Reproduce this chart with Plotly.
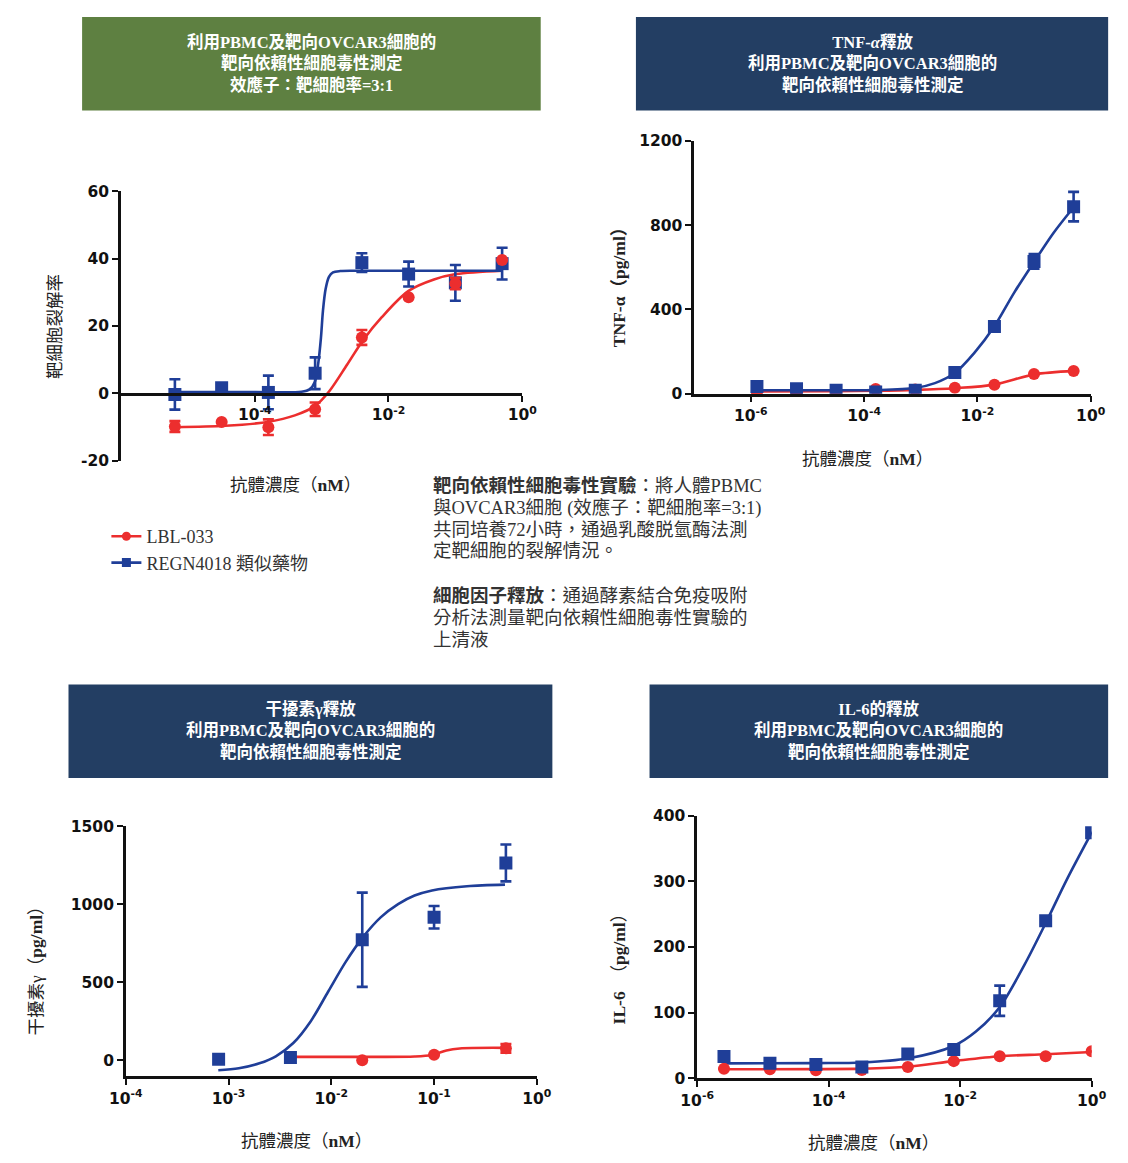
import numpy as np
import plotly.graph_objects as go

W, H = 1128, 1163

RED = "#ec2e2e"
BLUE = "#1f3e98"
GREEN_HDR = "#5e8041"
NAVY_HDR = "#233e63"

# ---------------- Target cell lysis (E:T = 3:1) ----------------
lysis_conc = [6.4e-6, 3.2e-5, 1.6e-4, 8e-4, 4e-3, 0.02, 0.1, 0.5]
lysis_lbl = [-9.8, -8.5, -10.0, -4.7, 16.6, 28.5, 32.6, 39.6]
lysis_lbl_err = [1.6, 0, 2.3, 2.0, 2.2, 0, 1.7, 0]
lysis_regn = [-0.3, 1.7, 0.3, 6.0, 38.8, 35.4, 32.8, 38.5]
lysis_regn_err = [4.5, 0, 5.0, 4.7, 2.8, 3.7, 5.3, 4.7]
lysis_lbl_fit_logc = [-5.19, -4.44, -3.79, -3.40, -3.09, -2.88, -2.62, -2.38, -2.10, -1.70, -1.32, -0.99, -0.30]
lysis_lbl_fit = [-10.0, -9.6, -8.4, -6.5, -3.6, 0.8, 8.5, 15.8, 22.6, 30.4, 33.8, 35.4, 36.4]
lysis_regn_fit_logc = [-5.19, -4.0, -3.30, -3.18, -3.10, -3.05, -3.01, -2.98, -2.94, -2.89, -2.83, -2.72, -2.5, -0.30]
lysis_regn_fit = [0.4, 0.4, 0.5, 1.2, 3.5, 9.0, 16.5, 24.5, 31.0, 34.6, 35.9, 36.3, 36.4, 36.4]
lysis_ticks = [-20, 0, 20, 40, 60]

# ---------------- TNF-alpha release ----------------
tnf_conc = [1.28e-6, 6.4e-6, 3.2e-5, 1.6e-4, 8e-4, 4e-3, 0.02, 0.1, 0.5]
tnf_lbl = [5, 5, 10, 22, 20, 28, 42, 93, 108]
tnf_regn = [34, 23, 16, 8, 16, 101, 319, 628, 888]
tnf_regn_err = [0, 0, 0, 0, 0, 0, 0, 35, 70]
tnf_lbl_fit_logc = [-5.89, -4.49, -3.80, -3.10, -2.40, -1.70, -1.00, -0.30]
tnf_lbl_fit = [10, 12, 14, 18, 26, 43, 91, 108]
tnf_regn_fit_logc = [-5.89, -4.49, -3.80, -3.10, -2.75, -2.40, -2.05, -1.70, -1.35, -1.00, -0.65, -0.30]
tnf_regn_fit = [16, 16, 17, 27, 50, 98, 195, 320, 480, 625, 765, 885]
tnf_ticks = [0, 400, 800, 1200]

# ---------------- Interferon-gamma release ----------------
ifn_conc = [8e-4, 4e-3, 0.02, 0.1, 0.5]
ifn_regn = [6, 17, 772, 916, 1264]
ifn_regn_err = [0, 0, 302, 72, 118]
ifn_lbl_conc = [4e-3, 0.02, 0.1, 0.5]
ifn_lbl = [20, 0, 34, 76]
ifn_lbl_err = [0, 0, 0, 28]
ifn_lbl_fit_logc = [-2.40, -1.70, -1.19, -1.02, -0.88, -0.75, -0.31]
ifn_lbl_fit = [21, 21, 23, 33, 62, 75, 79]
ifn_regn_fit_logc = [-3.10, -2.90, -2.70, -2.54, -2.37, -2.20, -2.03, -1.86, -1.69, -1.52, -1.35, -1.19, -1.02, -0.68, -0.31]
ifn_regn_fit = [-65, -52, -20, 25, 110, 250, 440, 630, 790, 915, 1000, 1055, 1088, 1115, 1125]
ifn_ticks = [0, 500, 1000, 1500]

# ---------------- IL-6 release ----------------
il6_conc = [2.56e-6, 1.28e-5, 6.4e-5, 3.2e-4, 1.6e-3, 8e-3, 0.04, 0.2, 1.0]
il6_lbl = [14.5, 13.5, 12, 12.5, 17, 26, 33.6, 33.6, 41]
il6_regn = [33, 22.6, 21, 17, 37, 43.6, 118, 240, 374]
il6_regn_err = [6, 0, 0, 0, 0, 0, 23, 0, 0]
il6_lbl_fit_logc = [-5.59, -4.19, -3.49, -2.80, -2.10, -1.40, -0.70, 0.0]
il6_lbl_fit = [13.6, 13.8, 14.5, 17.5, 26, 33.5, 36.5, 40]
il6_regn_fit_logc = [-5.59, -4.19, -3.49, -2.80, -2.10, -1.76, -1.40, -1.02, -0.70, -0.37, 0.0]
il6_regn_fit = [22.6, 23, 24, 30, 49, 71, 108, 173, 236, 304, 374]
il6_ticks = [0, 100, 200, 300, 400]

series_names = ["LBL-033", "REGN4018 類似藥物"]

TICK_FONT = dict(family="DejaVu Sans", size=15.5, color="#111111", weight="bold")
SERIF = "Liberation Serif, Noto Sans CJK TC"
CJK = "Noto Sans CJK TC"


def px(x):
    return x / W


def py(y):
    return 1 - y / H


def pow_label(e):
    return "10<sup>%d</sup>" % e


fig = go.Figure()


def add_panel(ax, fits, points):
    xa = "x" if ax == 1 else "x%d" % ax
    ya = "y" if ax == 1 else "y%d" % ax
    for logc, vals, color in fits:
        fig.add_trace(go.Scatter(
            x=10 ** np.array(logc), y=vals, mode="lines",
            line=dict(color=color, width=2.6, shape="spline", smoothing=0.9),
            showlegend=False, hoverinfo="skip", xaxis=xa, yaxis=ya))
    for conc, vals, err, color, symbol, size in points:
        fig.add_trace(go.Scatter(
            x=conc, y=vals, mode="markers",
            marker=dict(color=color, symbol=symbol, size=size),
            error_y=dict(type="data", array=err, visible=True, color=color,
                         thickness=2.6, width=5.5),
            showlegend=False, xaxis=xa, yaxis=ya))


add_panel(1,
          [(lysis_lbl_fit_logc, lysis_lbl_fit, RED), (lysis_regn_fit_logc, lysis_regn_fit, BLUE)],
          [(lysis_conc, lysis_regn, lysis_regn_err, BLUE, "square", 13),
           (lysis_conc, lysis_lbl, lysis_lbl_err, RED, "circle", 12)])
add_panel(2,
          [(tnf_lbl_fit_logc, tnf_lbl_fit, RED), (tnf_regn_fit_logc, tnf_regn_fit, BLUE)],
          [(tnf_conc, tnf_lbl, [0] * len(tnf_lbl), RED, "circle", 12),
           (tnf_conc, tnf_regn, tnf_regn_err, BLUE, "square", 13)])
add_panel(3,
          [(ifn_lbl_fit_logc, ifn_lbl_fit, RED), (ifn_regn_fit_logc, ifn_regn_fit, BLUE)],
          [(ifn_lbl_conc, ifn_lbl, ifn_lbl_err, RED, "circle", 12),
           (ifn_conc, ifn_regn, ifn_regn_err, BLUE, "square", 13)])
add_panel(4,
          [(il6_lbl_fit_logc, il6_lbl_fit, RED), (il6_regn_fit_logc, il6_regn_fit, BLUE)],
          [(il6_conc, il6_lbl, [0] * len(il6_lbl), RED, "circle", 12),
           (il6_conc, il6_regn, il6_regn_err, BLUE, "square", 13)])

# legend entries (line + marker)
for name, color, symbol in [(series_names[0], RED, "circle"), (series_names[1], BLUE, "square")]:
    fig.add_trace(go.Scatter(x=[None], y=[None], mode="lines+markers", name=name,
                             line=dict(color=color, width=2.6),
                             marker=dict(color=color, symbol=symbol, size=9),
                             xaxis="x", yaxis="y"))

axis_common = dict(showline=True, linewidth=2.6, linecolor="#111111", ticks="outside",
                   ticklen=6, tickwidth=2.2, tickcolor="#111111", showgrid=False,
                   zeroline=False, tickfont=TICK_FONT)


def xaxis(x0, x1, lo, hi, exps, **kw):
    d = dict(axis_common)
    d.update(type="log", range=[lo, hi], domain=[px(x0), px(x1)],
             tickvals=[10.0 ** e for e in exps], ticktext=[pow_label(e) for e in exps])
    d.update(kw)
    return d


def yaxis(top, bottom, lo, hi, vals, anchor):
    d = dict(axis_common)
    d.update(range=[lo, hi], domain=[py(bottom), py(top)], tickvals=vals,
             ticktext=[str(v) for v in vals], anchor=anchor)
    return d


fig.update_layout(
    width=W, height=H, margin=dict(l=0, r=0, t=0, b=0),
    paper_bgcolor="white", plot_bgcolor="rgba(0,0,0,0)",
    xaxis=xaxis(107, 520, -6, 0, [-4, -2, 0], anchor="free", position=py(391)),
    yaxis=yaxis(185, 459, -20, 60, lysis_ticks, "x"),
    xaxis2=xaxis(697, 1105, -7, 0, [-6, -4, -2, 0], anchor="y2"),
    yaxis2=yaxis(134, 390.7, 0, 1200, tnf_ticks, "x2"),
    xaxis3=xaxis(112, 535, -4, 0, [-4, -3, -2, -1, 0], anchor="y3"),
    yaxis3=yaxis(830, 1084, -103, 1500, ifn_ticks, "x3"),
    xaxis4=xaxis(700, 1106, -6, 0, [-6, -4, -2, 0], anchor="y4"),
    yaxis4=yaxis(819.3, 1086, 0, 400, il6_ticks, "x4"),
    legend=dict(x=px(92), y=py(517), xanchor="left", yanchor="top",
                font=dict(family=SERIF, size=18, color="#333333"),
                bgcolor="rgba(0,0,0,0)", itemwidth=30, tracegroupgap=2),
)

# header banners
banners = [
    (67, 539, 8, 103, GREEN_HDR,
     "利用PBMC及靶向OVCAR3細胞的<br>靶向依賴性細胞毒性測定<br>效應子：靶細胞率=3:1"),
    (637, 1123, 8, 103, NAVY_HDR,
     "TNF-<i>α</i>釋放<br>利用PBMC及靶向OVCAR3細胞的<br>靶向依賴性細胞毒性測定"),
    (53, 551, 686, 781, NAVY_HDR,
     "干擾素γ釋放<br>利用PBMC及靶向OVCAR3細胞的<br>靶向依賴性細胞毒性測定"),
    (651, 1123, 686, 781, NAVY_HDR,
     "IL-6的釋放<br>利用PBMC及靶向OVCAR3細胞的<br>靶向依賴性細胞毒性測定"),
]
for x0, x1, y0, y1, color, text in banners:
    fig.add_shape(type="rect", xref="paper", yref="paper",
                  x0=px(x0), x1=px(x1), y0=py(y1), y1=py(y0),
                  fillcolor=color, line=dict(width=0), layer="below")
    fig.add_annotation(xref="paper", yref="paper", x=px((x0 + x1) / 2), y=py((y0 + y1) / 2),
                       text="<b>%s</b>" % text, showarrow=False, xanchor="center", yanchor="middle",
                       align="center", font=dict(family=SERIF, size=16.5, color="white"))

# axis titles
x_title = "抗體濃度（<b>nM</b>）"
for x, y in [(287, 483), (875, 457), (298, 1150), (882, 1152)]:
    fig.add_annotation(xref="paper", yref="paper", x=px(x), y=py(y), text=x_title,
                       showarrow=False, xanchor="center", yanchor="middle",
                       font=dict(family=SERIF, size=17.5, color="#222222"))

y_titles = [
    (37, 322, "靶細胞裂解率", CJK),
    (619, 278, "<b>TNF-α（pg/ml）</b>", SERIF),
    (19, 972, "干擾素γ（<b>pg/ml</b>）", SERIF),
    (620, 970, "<b>IL-6</b>  （<b>pg/ml</b>）", SERIF),
]
for x, y, text, fam in y_titles:
    fig.add_annotation(xref="paper", yref="paper", x=px(x), y=py(y), text=text,
                       showarrow=False, textangle=-90, xanchor="center", yanchor="middle",
                       font=dict(family=fam, size=17.5, color="#222222"))

# method notes
notes = [
    (484, "<b>靶向依賴性細胞毒性實驗</b>：將人體PBMC"),
    (507, "與OVCAR3細胞 (效應子：靶細胞率=3:1)"),
    (529, "共同培養72小時，通過乳酸脱氫酶法測"),
    (551, "定靶細胞的裂解情況。"),
    (596, "<b>細胞因子釋放</b>：通過酵素結合免疫吸附"),
    (619, "分析法測量靶向依賴性細胞毒性實驗的"),
    (641, "上清液"),
]
for y, text in notes:
    fig.add_annotation(xref="paper", yref="paper", x=px(426), y=py(y), text=text,
                       showarrow=False, xanchor="left", yanchor="middle", align="left",
                       font=dict(family=SERIF, size=18.5, color="#333333"))

fig.write_html("out.html")
